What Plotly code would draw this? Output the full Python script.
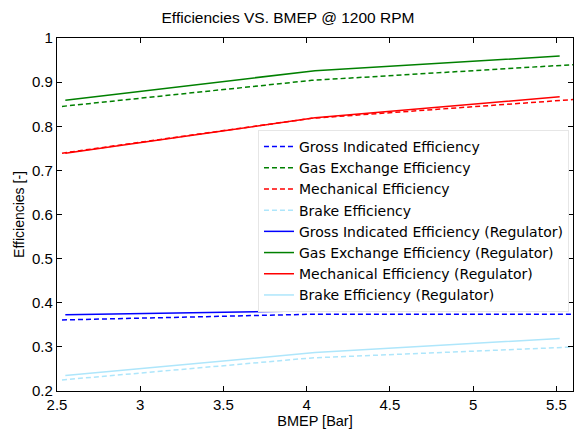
import plotly.graph_objects as go

x_base = [2.53, 4.03, 5.62]
x_reg = [2.55, 4.05, 5.52]

gross = [0.361, 0.374, 0.374]
gas = [0.845, 0.904, 0.940]
mech = [0.739, 0.818, 0.861]
brake = [0.225, 0.275, 0.300]

gross_reg = [0.373, 0.382, 0.386]
gas_reg = [0.859, 0.926, 0.959]
mech_reg = [0.739, 0.819, 0.867]
brake_reg = [0.235, 0.287, 0.319]

names = ["Gross Indicated Efficiency", "Gas Exchange Efficiency",
         "Mechanical Efficiency", "Brake Efficiency"]
colors = ["#0000ff", "#008000", "#ff0000", "#aee6fb"]

fig = go.Figure()
for n, c, y in zip(names, colors, [gross, gas, mech, brake]):
    fig.add_trace(go.Scatter(x=x_base, y=y, mode="lines", name=n,
                             line=dict(color=c, width=1.5, dash="5px,3px")))
for n, c, y in zip(names, colors, [gross_reg, gas_reg, mech_reg, brake_reg]):
    fig.add_trace(go.Scatter(x=x_reg, y=y, mode="lines", name=n + " (Regulator)",
                             line=dict(color=c, width=1.5)))

axis_common = dict(showline=True, linecolor="black", linewidth=1.2, mirror="ticks",
                   ticks="inside", ticklen=5, tickcolor="black", showgrid=False,
                   zeroline=False, tickfont=dict(size=15, color="black"))
fig.update_layout(
    width=576, height=431,
    margin=dict(l=57, r=3, t=38, b=40),
    paper_bgcolor="white", plot_bgcolor="white",
    font=dict(family="Liberation Sans, Arial, sans-serif", size=14, color="black"),
    title=dict(text="Efficiencies VS. BMEP @ 1200 RPM", x=0.5, xanchor="center",
               y=0.96, yanchor="middle", font=dict(size=15.5)),
    xaxis=dict(range=[2.5, 5.6], tickvals=[2.5, 3, 3.5, 4, 4.5, 5, 5.5],
               ticktext=["2.5", "3", "3.5", "4", "4.5", "5", "5.5"],
               ticklabelstandoff=0,
               title=dict(text="BMEP [Bar]", standoff=2, font=dict(size=14.5)),
               **axis_common),
    yaxis=dict(range=[0.2, 1.0], tickvals=[0.2, 0.3, 0.4, 0.5, 0.6, 0.7, 0.8, 0.9, 1.0],
               ticktext=["0.2", "0.3", "0.4", "0.5", "0.6", "0.7", "0.8", "0.9", "1"],
               title=dict(text="Efficiencies [-]", standoff=4, font=dict(size=14)),
               **axis_common),
    legend=dict(x=0.3895, y=0.7395, xanchor="left", yanchor="top",
                bgcolor="white", bordercolor="#e6e6e6", borderwidth=1,
                font=dict(size=14, family="DejaVu Sans"), tracegroupgap=0, itemwidth=30),
)
fig.write_html("out.html", post_script="document.body.style.margin='0';",
               config={"displayModeBar": False})
